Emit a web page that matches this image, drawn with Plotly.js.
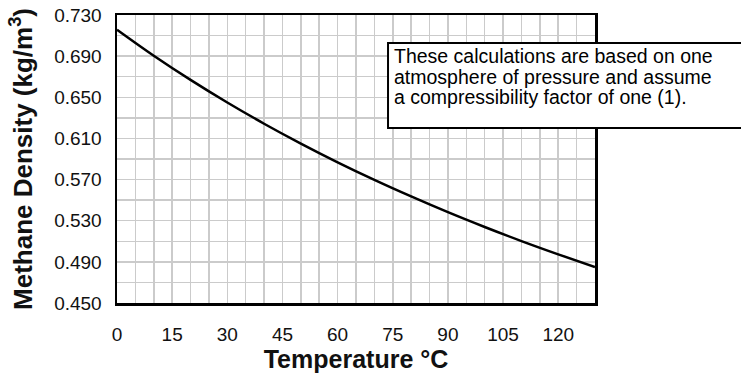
<!DOCTYPE html>
<html>
<head>
<meta charset="utf-8">
<script src="https://cdn.plot.ly/plotly-3.0.1.min.js"></script>
<style>html,body{margin:0;padding:0;background:#fff;}#chart{width:741px;height:378px;}</style>
</head>
<body>
<div id="chart"></div>
<script>
const temperatureC = [0,10,20,30,40,50,60,70,80,90,100,110,120,130];
const densityKgM3 = [0.7157,0.6904,0.6669,0.6449,0.6243,0.6050,0.5868,0.5697,0.5536,0.5383,0.5239,0.5102,0.4973,0.4849];
const xTickVals = [0,15,30,45,60,75,90,105,120];
const yTickVals = [0.450,0.490,0.530,0.570,0.610,0.650,0.690,0.730];
const yTickText = ["0.450","0.490","0.530","0.570","0.610","0.650","0.690","0.730"];
const xTitle = "Temperature °C";
const yTitle = "Methane Density (kg/m<sup>3</sup>)";
const noteLines = ["These calculations are based on one","atmosphere of pressure and assume","a compressibility factor of one (1)."];

const FONT = "Liberation Sans, Arial, Helvetica, sans-serif";
const gridColor = "#cbcbcb";

const trace = {
  x: temperatureC, y: densityKgM3, type: "scatter", mode: "lines",
  line: {color: "#000", width: 2.5, shape: "spline", smoothing: 1}, hoverinfo: "skip"
};

const noteY = [0.856, 0.785, 0.714];
const annotations = noteLines.map((t, i) => ({
  xref: "paper", yref: "paper", x: 0.5745, y: noteY[i],
  xanchor: "left", yanchor: "middle", showarrow: false, text: t,
  font: {family: FONT, size: 19.5, color: "#000"}
}));

const layout = {
  width: 741, height: 378,
  margin: {l: 117, r: 146, t: 15, b: 75, pad: 0},
  paper_bgcolor: "#fff", plot_bgcolor: "#fff",
  showlegend: false,
  xaxis: {
    range: [0, 130], tickvals: xTickVals, ticks: "", ticklabelstandoff: 13,
    showgrid: true, gridcolor: gridColor, gridwidth: 1.5,
    minor: {dtick: 5, tick0: 0, showgrid: true, gridcolor: gridColor, gridwidth: 1.5},
    showline: true, linecolor: "#000", linewidth: 2.5, mirror: true, zeroline: false,
    tickfont: {family: FONT, size: 19, color: "#111"},
    title: {text: xTitle, font: {family: FONT, size: 25, color: "#111", weight: "bold"}, standoff: 6},
    automargin: false, fixedrange: true
  },
  yaxis: {
    range: [0.45, 0.73], tickvals: yTickVals, ticktext: yTickText, ticks: "", ticklabelstandoff: 9,
    showgrid: true, gridcolor: gridColor, gridwidth: 1.5,
    minor: {dtick: 0.02, tick0: 0.45, showgrid: true, gridcolor: gridColor, gridwidth: 1.5},
    showline: true, linecolor: "#000", linewidth: 2.5, mirror: true, zeroline: false,
    tickfont: {family: FONT, size: 19, color: "#111"},
    title: {text: yTitle, font: {family: FONT, size: 26, color: "#111", weight: "bold"}, standoff: 14},
    automargin: false, fixedrange: true
  },
  shapes: [{
    type: "rect", xref: "paper", yref: "paper", x0: 0.567, x1: 1.35, y0: 0.6076, y1: 0.9028,
    line: {color: "#000", width: 2}, fillcolor: "#fff", layer: "above"
  }],
  annotations: annotations
};

Plotly.newPlot("chart", [trace], layout, {staticPlot: true, displayModeBar: false});
</script>
</body>
</html>
